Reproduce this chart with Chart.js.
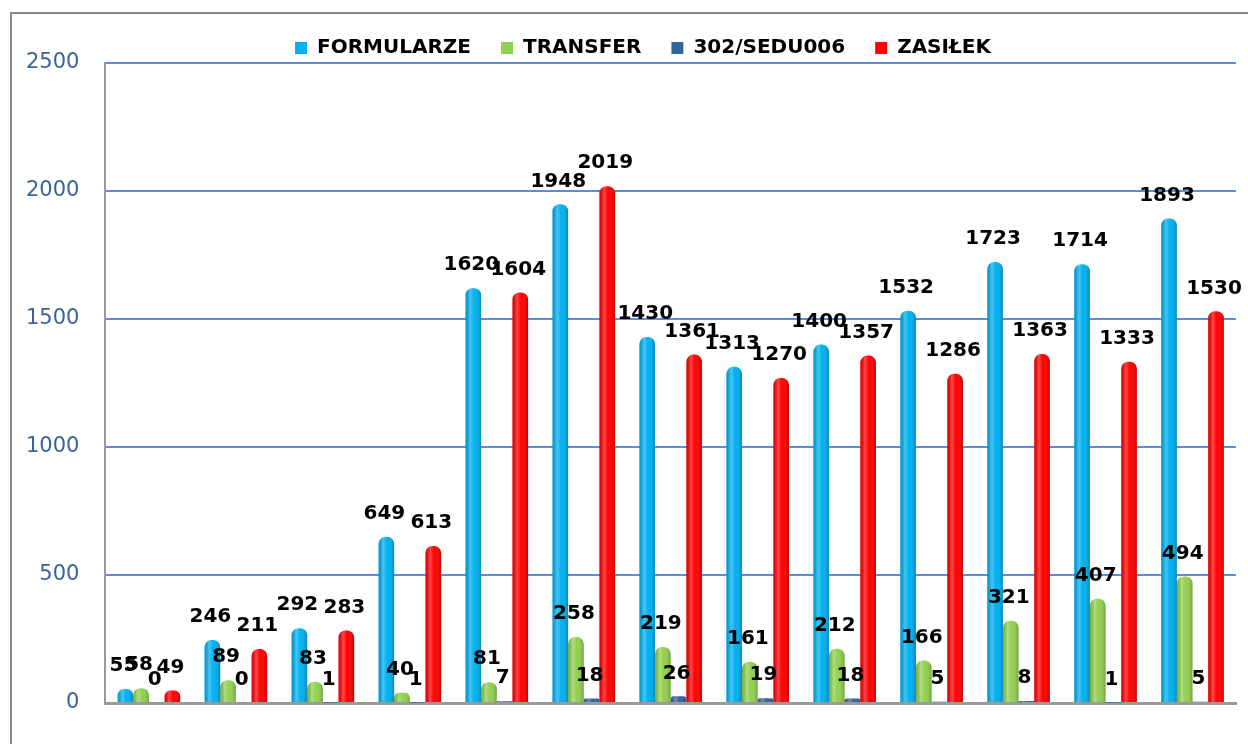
<!DOCTYPE html>
<html>
<head>
<meta charset="utf-8">
<script src="https://cdn.jsdelivr.net/npm/chart.js@4.4.1/dist/chart.umd.min.js"></script>
<style>
  html, body { margin: 0; padding: 0; background: #ffffff; }
  #wrap { width: 1248px; height: 744px; position: relative; }
</style>
</head>
<body>
<div id="wrap"><canvas id="c"></canvas></div>
<script>
// ---- data ----
const categories = ['1','2','3','4','5','6','7','8','9','10','11','12','13'];
const seriesNames = ['FORMULARZE', 'TRANSFER', '302/SEDU006', 'ZASIŁEK'];
const formularze = [55, 246, 292, 649, 1620, 1948, 1430, 1313, 1400, 1532, 1723, 1714, 1893];
const transfer   = [58, 89, 83, 40, 81, 258, 219, 161, 212, 166, 321, 407, 494];
const sedu006    = [0, 0, 1, 1, 7, 18, 26, 19, 18, 5, 8, 1, 5];
const zasilek    = [49, 211, 283, 613, 1604, 2019, 1361, 1270, 1357, 1286, 1363, 1333, 1530];
const yTicks     = [0, 500, 1000, 1500, 2000, 2500];

const colors = ['#00b0f0', '#92d050', '#34649c', '#ff0000'];
const seriesData = [formularze, transfer, sedu006, zasilek];

const framePlugin = {
  id: 'frame',
  beforeDraw(chart) {
    const ctx = chart.ctx;
    ctx.save();
    ctx.fillStyle = '#ffffff';
    ctx.fillRect(0, 0, chart.width, chart.height);
    ctx.strokeStyle = '#8a8a8a';
    ctx.lineWidth = 2;
    ctx.strokeRect(11, 13, chart.width + 20, chart.height + 20);
    ctx.restore();
  },
  afterLayout(chart) {
    // center the legend over the same point as the original picture
    if (chart.legend) {
      chart.legend.left += 25;
      chart.legend.right += 25;
    }
  }
};

const shadePlugin = {
  id: 'shade',
  afterDatasetsDraw(chart) {
    const ctx = chart.ctx;
    ctx.save();
    chart.data.datasets.forEach((ds, di) => {
      const meta = chart.getDatasetMeta(di);
      meta.data.forEach((el) => {
        const h = el.base - el.y;
        if (!(h > 0.5)) return;
        const left = el.x - el.width / 2;
        const g = ctx.createLinearGradient(left, 0, left + el.width, 0);
        g.addColorStop(0, 'rgba(0,0,0,0.15)');
        g.addColorStop(0.3, 'rgba(255,255,255,0.28)');
        g.addColorStop(0.55, 'rgba(255,255,255,0.0)');
        g.addColorStop(1, 'rgba(0,0,0,0.22)');
        ctx.fillStyle = g;
        const r = Math.min(7, h, el.width / 2);
        ctx.beginPath();
        ctx.roundRect(left, el.y, el.width, h, [r, r, 0, 0]);
        ctx.fill();
      });
    });
    ctx.restore();
  }
};

const labelPlugin = {
  id: 'valueLabels',
  afterDatasetsDraw(chart) {
    const ctx = chart.ctx;
    ctx.save();
    ctx.font = 'bold 20px "DejaVu Sans"';
    ctx.fillStyle = '#000000';
    ctx.textAlign = 'center';
    ctx.textBaseline = 'middle';
    chart.data.datasets.forEach((ds, di) => {
      const meta = chart.getDatasetMeta(di);
      meta.data.forEach((el, i) => {
        ctx.fillText(String(ds.data[i]), el.x - 2, el.y - 23);
      });
    });
    ctx.restore();
  }
};

new Chart(document.getElementById('c'), {
  type: 'bar',
  data: {
    labels: categories,
    datasets: seriesNames.map((name, k) => ({
      label: name,
      data: seriesData[k],
      backgroundColor: colors[k],
      borderWidth: 0,
      borderRadius: { topLeft: 7, topRight: 7, bottomLeft: 0, bottomRight: 0 },
      borderSkipped: 'bottom',
      categoryPercentage: 0.72,
      barPercentage: 1.0
    }))
  },
  options: {
    responsive: true,
    maintainAspectRatio: false,
    animation: false,
    layout: { padding: { left: 0, right: 12, top: 8, bottom: 41 } },
    plugins: {
      legend: {
        display: true,
        position: 'top',
        maxHeight: 55,
        labels: {
          boxWidth: 12,
          boxHeight: 12,
          padding: 30,
          color: '#000000',
          font: { family: '"DejaVu Sans"', size: 20, weight: 'bold' },
          generateLabels(chart) {
            return chart.data.datasets.map((ds, i) => ({
              text: ds.label,
              fillStyle: ds.backgroundColor,
              strokeStyle: ds.backgroundColor,
              lineWidth: 0,
              hidden: false,
              datasetIndex: i,
              fontColor: '#000000'
            }));
          }
        }
      },
      tooltip: { enabled: false }
    },
    scales: {
      x: {
        display: true,
        grid: { display: false, drawTicks: false },
        ticks: { display: false },
        border: { display: true, color: '#9a9a9a', width: 3 }
      },
      y: {
        min: 0,
        max: 2500,
        afterBuildTicks(scale) { scale.ticks = yTicks.map(v => ({ value: v })); },
        grid: { color: '#5b8ed6', lineWidth: 2, drawTicks: false },
        border: { display: true, color: '#9a9a9a', width: 2 },
        ticks: {
          padding: 26,
          color: '#3a6497',
          font: { family: '"DejaVu Sans"', size: 21 },
          callback: (v) => String(v)
        }
      }
    }
  },
  plugins: [framePlugin, shadePlugin, labelPlugin]
});
</script>
</body>
</html>
